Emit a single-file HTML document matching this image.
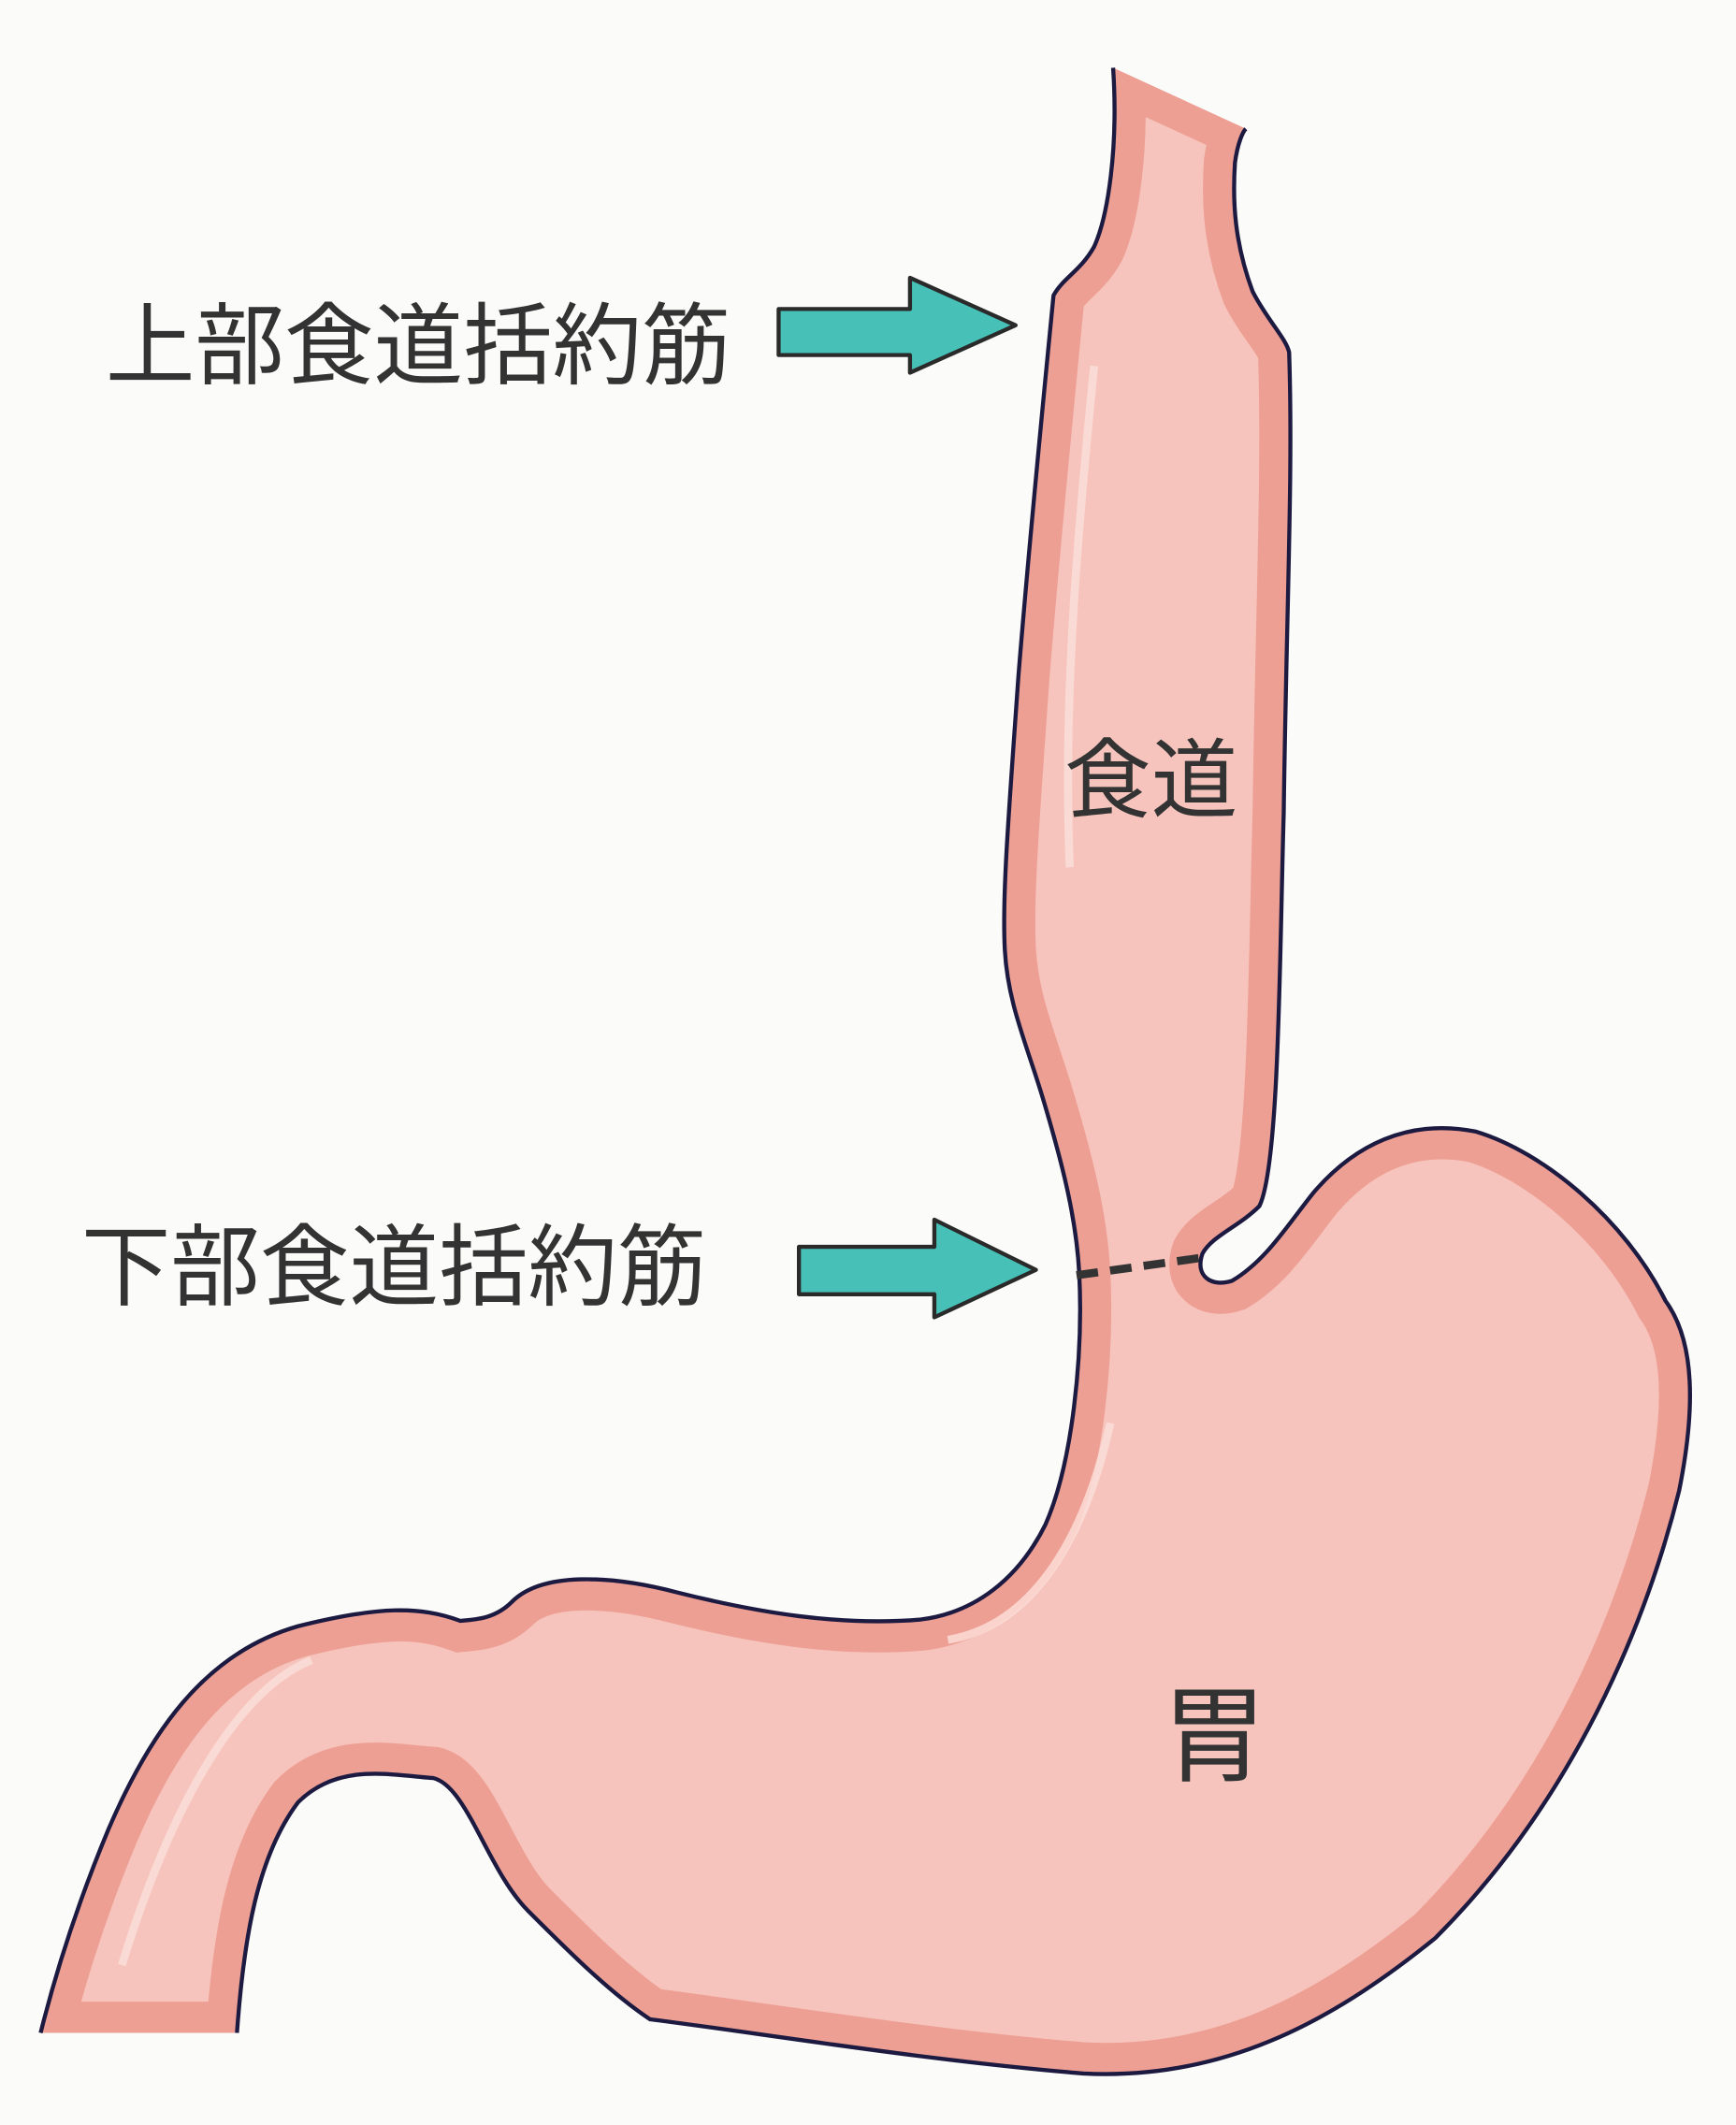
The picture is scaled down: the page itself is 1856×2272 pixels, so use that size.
<!DOCTYPE html>
<html><head><meta charset="utf-8"><style>
html,body{margin:0;padding:0;background:#fbfbf9;}
svg{display:block;}
text{font-family:"Liberation Sans","Noto Sans CJK JP",sans-serif;fill:#333;}
</style></head><body>
<svg width="1856" height="2272" viewBox="0 0 1282 1568" preserveAspectRatio="none">
<defs>
<path id="organ" d="M822,50 C826,110 818,160 808,182 C798,200 785,205 778,218 C770,300 760,400 752,500 C745,600 740,660 742,700 C744,740 758,770 770,810 C785,860 795,900 797,940 C800,1000 792,1080 772,1125 C752,1165 720,1190 680,1195 C620,1200 560,1190 500,1175 C450,1162 400,1160 378,1182 C365,1195 350,1195 340,1196 C310,1185 280,1185 220,1200 C150,1220 110,1280 80,1350 C55,1410 40,1460 30,1500 L175,1500 C180,1430 190,1370 220,1330 C250,1300 290,1310 320,1312 C345,1318 360,1380 390,1410 C420,1440 450,1470 480,1490 C560,1500 680,1520 800,1530 C900,1535 980,1495 1060,1430 C1150,1340 1210,1220 1240,1100 C1252,1040 1252,990 1230,960 C1200,900 1140,850 1090,835 C1040,825 1000,845 970,880 C950,905 935,930 910,945 C895,950 882,942 888,925 C895,912 915,905 930,890 C945,860 945,700 948,600 C950,450 955,350 952,260 C950,250 935,235 925,215 C912,180 910,150 912,120 C914,105 918,97 920,95 Z"/>
<clipPath id="cp"><use href="#organ"/></clipPath>
</defs>
<use href="#organ" fill="#f6c4bc"/>
<g clip-path="url(#cp)">
<use href="#organ" fill="none" stroke="#ed9f94" stroke-width="46"/>
<path d="M808,270 C795,400 785,520 790,640 M820,1050 C800,1140 760,1200 700,1210 M230,1225 C180,1245 130,1320 90,1450" fill="none" stroke="#fbe0da" stroke-width="6" opacity="0.8"/>
</g>
<path d="M822,50 C826,110 818,160 808,182 C798,200 785,205 778,218 C770,300 760,400 752,500 C745,600 740,660 742,700 C744,740 758,770 770,810 C785,860 795,900 797,940 C800,1000 792,1080 772,1125 C752,1165 720,1190 680,1195 C620,1200 560,1190 500,1175 C450,1162 400,1160 378,1182 C365,1195 350,1195 340,1196 C310,1185 280,1185 220,1200 C150,1220 110,1280 80,1350 C55,1410 40,1460 30,1500 M175,1500 C180,1430 190,1370 220,1330 C250,1300 290,1310 320,1312 C345,1318 360,1380 390,1410 C420,1440 450,1470 480,1490 C560,1500 680,1520 800,1530 C900,1535 980,1495 1060,1430 C1150,1340 1210,1220 1240,1100 C1252,1040 1252,990 1230,960 C1200,900 1140,850 1090,835 C1040,825 1000,845 970,880 C950,905 935,930 910,945 C895,950 882,942 888,925 C895,912 915,905 930,890 C945,860 945,700 948,600 C950,450 955,350 952,260 C950,250 935,235 925,215 C912,180 910,150 912,120 C914,105 918,97 920,95" fill="none" stroke="#1c1a40" stroke-width="3"/>
<line x1="795" y1="941" x2="888" y2="928" stroke="#333" stroke-width="6" stroke-dasharray="16,9"/>
<polygon points="575,228 672,228 672,205 750,240 672,275 672,262 575,262" fill="#47c0b8" stroke="#2a2a2a" stroke-width="3" stroke-linejoin="round"/>
<polygon points="590,920 690,920 690,900 765,937 690,972 690,955 590,955" fill="#47c0b8" stroke="#2a2a2a" stroke-width="3" stroke-linejoin="round"/>
<text x="78" y="278" font-size="66">上部食道括約筋</text>
<text x="60" y="958" font-size="66">下部食道括約筋</text>
<text x="786" y="598" font-size="64">食道</text>
<text x="858" y="1308" font-size="78">胃</text>
</svg>
</body></html>
